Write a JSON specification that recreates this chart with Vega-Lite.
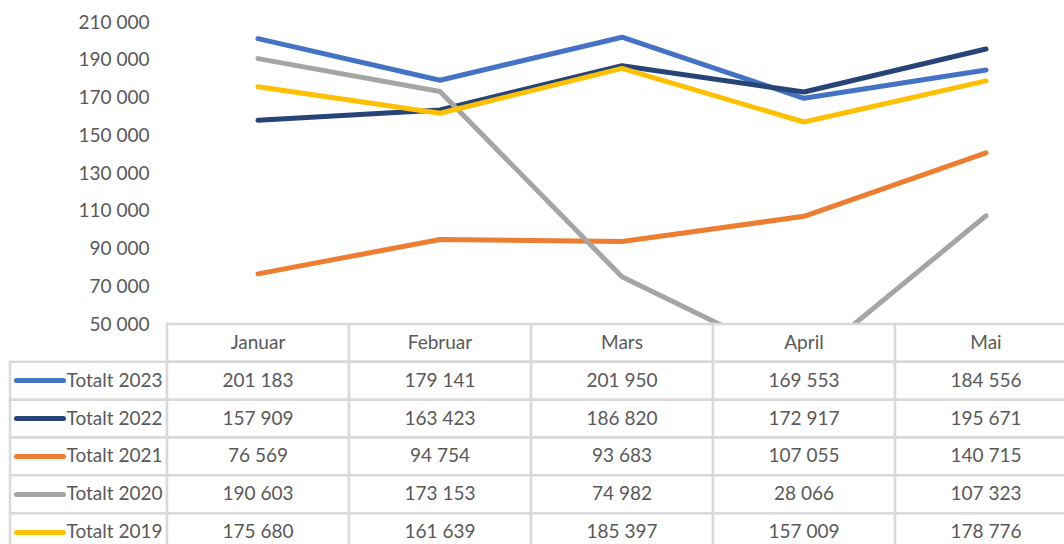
{
  "$schema": "https://vega.github.io/schema/vega-lite/v6.json",
  "autosize": {"type": "pad"},
  "padding": {"left": 8, "top": 13, "right": 0, "bottom": 0},
  "background": "white",
  "columns": 2,
  "spacing": 0,
  "bounds": "flush",
  "datasets": {
    "main": [
      {"serie": "Totalt 2023", "month": "Januar", "value": 201183},
      {"serie": "Totalt 2023", "month": "Februar", "value": 179141},
      {"serie": "Totalt 2023", "month": "Mars", "value": 201950},
      {"serie": "Totalt 2023", "month": "April", "value": 169553},
      {"serie": "Totalt 2023", "month": "Mai", "value": 184556},
      {"serie": "Totalt 2022", "month": "Januar", "value": 157909},
      {"serie": "Totalt 2022", "month": "Februar", "value": 163423},
      {"serie": "Totalt 2022", "month": "Mars", "value": 186820},
      {"serie": "Totalt 2022", "month": "April", "value": 172917},
      {"serie": "Totalt 2022", "month": "Mai", "value": 195671},
      {"serie": "Totalt 2021", "month": "Januar", "value": 76569},
      {"serie": "Totalt 2021", "month": "Februar", "value": 94754},
      {"serie": "Totalt 2021", "month": "Mars", "value": 93683},
      {"serie": "Totalt 2021", "month": "April", "value": 107055},
      {"serie": "Totalt 2021", "month": "Mai", "value": 140715},
      {"serie": "Totalt 2020", "month": "Januar", "value": 190603},
      {"serie": "Totalt 2020", "month": "Februar", "value": 173153},
      {"serie": "Totalt 2020", "month": "Mars", "value": 74982},
      {"serie": "Totalt 2020", "month": "April", "value": 28066},
      {"serie": "Totalt 2020", "month": "Mai", "value": 107323},
      {"serie": "Totalt 2019", "month": "Januar", "value": 175680},
      {"serie": "Totalt 2019", "month": "Februar", "value": 161639},
      {"serie": "Totalt 2019", "month": "Mars", "value": 185397},
      {"serie": "Totalt 2019", "month": "April", "value": 157009},
      {"serie": "Totalt 2019", "month": "Mai", "value": 178776}
    ],
    "header": [
      {"serie": "hdr", "month": "Januar"},
      {"serie": "hdr", "month": "Februar"},
      {"serie": "hdr", "month": "Mars"},
      {"serie": "hdr", "month": "April"},
      {"serie": "hdr", "month": "Mai"}
    ]
  },
  "concat": [
    {
      "width": 157,
      "height": 302,
      "data": {"values": [{"a": 1}]},
      "mark": {"type": "text", "text": ""},
      "encoding": {}
    },
    {
      "width": 910,
      "height": 302,
      "data": {"name": "main"},
      "mark": {"type": "line", "strokeWidth": 5, "clip": true, "strokeCap": "round", "strokeJoin": "round"},
      "encoding": {
        "x": {
          "field": "month", "type": "nominal",
          "scale": {"type": "point", "padding": 0.5, "domain": ["Januar", "Februar", "Mars", "April", "Mai"]},
          "axis": null
        },
        "y": {
          "field": "value", "type": "quantitative",
          "scale": {"domain": [50000, 210000], "nice": false, "zero": false},
          "axis": {
            "values": [50000, 70000, 90000, 110000, 130000, 150000, 170000, 190000, 210000],
            "format": ",d", "domain": false, "ticks": false, "grid": false,
            "labelFont": "Lato", "labelFontSize": 19, "labelColor": "#595959",
            "labelPadding": 18, "title": null
          }
        },
        "color": {
          "field": "serie", "type": "nominal",
          "scale": {
            "domain": ["Totalt 2023", "Totalt 2022", "Totalt 2021", "Totalt 2020", "Totalt 2019"],
            "range": ["#4472C4", "#264478", "#ED7D31", "#A5A5A5", "#FFC000"]
          },
          "legend": null
        }
      }
    },
    {
      "width": 157,
      "height": 227,
      "data": {"name": "main"},
      "transform": [{"filter": "datum.month === 'Januar'"}],
      "mark": {"type": "rect", "fill": "white", "stroke": "#d9d9d9", "strokeWidth": 2.5},
      "encoding": {
        "y": {
          "field": "serie", "type": "nominal",
          "scale": {
            "type": "band", "paddingInner": 0, "paddingOuter": 0,
            "domain": ["hdr", "Totalt 2023", "Totalt 2022", "Totalt 2021", "Totalt 2020", "Totalt 2019"]
          },
          "axis": {
            "orient": "left", "offset": -6, "domain": false, "grid": false,
            "ticks": true, "tickSize": -47, "tickWidth": 5, "tickCap": "round",
            "tickColor": {
              "condition": [
                {"test": "datum.value === 'Totalt 2023'", "value": "#4472C4"},
                {"test": "datum.value === 'Totalt 2022'", "value": "#264478"},
                {"test": "datum.value === 'Totalt 2021'", "value": "#ED7D31"},
                {"test": "datum.value === 'Totalt 2020'", "value": "#A5A5A5"},
                {"test": "datum.value === 'Totalt 2019'", "value": "#FFC000"}
              ],
              "value": "transparent"
            },
            "labelAlign": "left", "labelPadding": -3,
            "labelExpr": "datum.value === 'hdr' ? '' : datum.value",
            "labelFont": "Lato", "labelFontSize": 19, "labelColor": "#595959",
            "title": null
          }
        }
      }
    },
    {
      "width": 910,
      "height": 227,
      "encoding": {
        "x": {
          "field": "month", "type": "nominal",
          "scale": {"type": "band", "paddingInner": 0, "paddingOuter": 0, "domain": ["Januar", "Februar", "Mars", "April", "Mai"]},
          "axis": null
        },
        "y": {
          "field": "serie", "type": "nominal",
          "scale": {
            "type": "band", "paddingInner": 0, "paddingOuter": 0,
            "domain": ["hdr", "Totalt 2023", "Totalt 2022", "Totalt 2021", "Totalt 2020", "Totalt 2019"]
          },
          "axis": null
        }
      },
      "layer": [
        {
          "data": {"name": "header"},
          "mark": {"type": "rect", "fill": "white", "stroke": "#d9d9d9", "strokeWidth": 2.5}
        },
        {
          "data": {"name": "main"},
          "mark": {"type": "rect", "fill": "white", "stroke": "#d9d9d9", "strokeWidth": 2.5}
        },
        {
          "data": {"name": "header"},
          "mark": {"type": "text", "font": "Lato", "fontSize": 19, "color": "#595959"},
          "encoding": {"text": {"field": "month"}}
        },
        {
          "data": {"name": "main"},
          "mark": {"type": "text", "font": "Lato", "fontSize": 19, "color": "#595959"},
          "encoding": {"text": {"field": "value", "type": "quantitative", "format": ",d"}}
        }
      ]
    }
  ],
  "config": {
    "view": {"stroke": null},
    "font": "Lato",
    "locale": {
      "number": {"decimal": ",", "thousands": "\u00a0", "grouping": [3], "currency": ["", " kr"]}
    }
  }
}
